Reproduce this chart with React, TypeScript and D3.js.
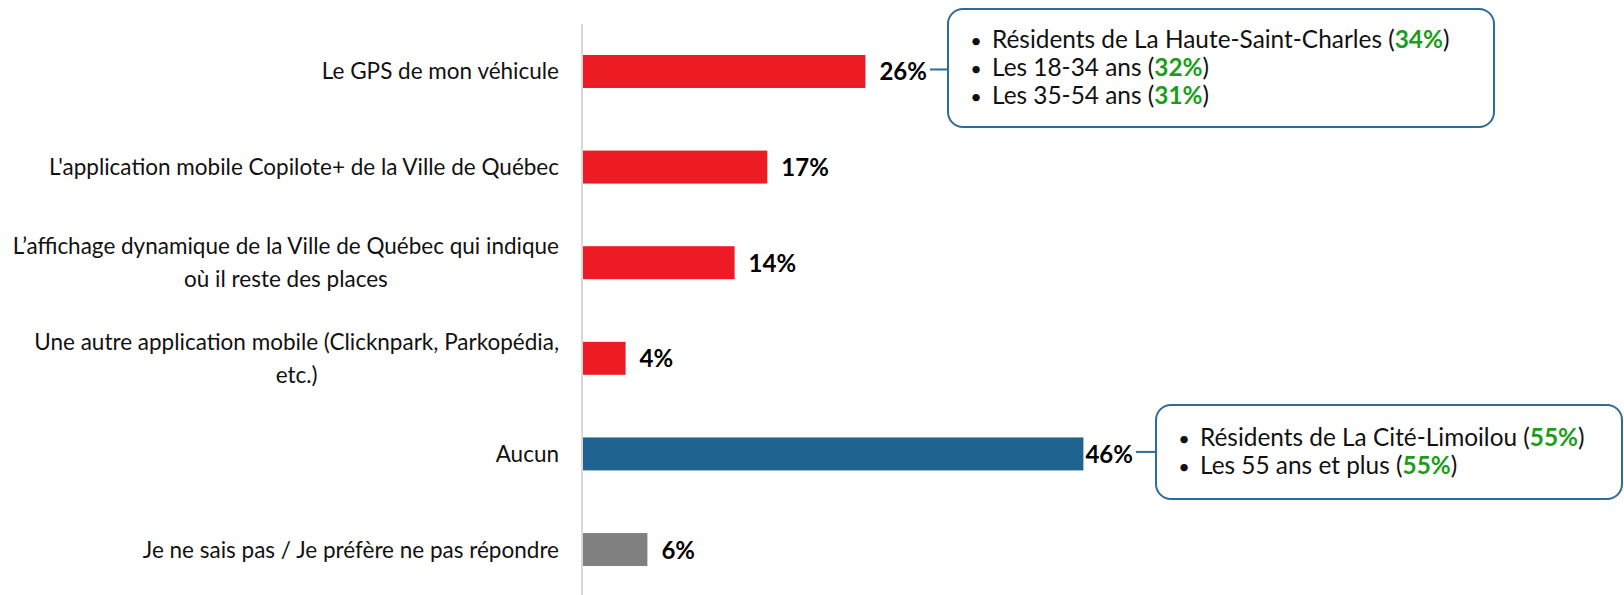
import React, { useEffect, useRef } from "react";
import * as d3 from "d3";

// ---- Data ----
const categories = [
  "Le GPS de mon véhicule",
  "L'application mobile Copilote+ de la Ville de Québec",
  "L’affichage dynamique de la Ville de Québec qui indique où il reste des places",
  "Une autre application mobile (Clicknpark, Parkopédia, etc.)",
  "Aucun",
  "Je ne sais pas / Je préfère ne pas répondre",
];
const categoryLines = [
  ["Le GPS de mon véhicule"],
  ["L'application mobile Copilote+ de la Ville de Québec"],
  ["L’affichage dynamique de la Ville de Québec qui indique", "où il reste des places"],
  ["Une autre application mobile (Clicknpark, Parkopédia,", "etc.)"],
  ["Aucun"],
  ["Je ne sais pas / Je préfère ne pas répondre"],
];
const values = [26, 17, 14, 4, 46, 6];
const groups = ["option", "option", "option", "option", "none", "unknown"];

const callout1Text = ["Résidents de La Haute-Saint-Charles", "Les 18-34 ans", "Les 35-54 ans"];
const callout1Values = ["34%", "32%", "31%"];
const callout2Text = ["Résidents de La Cité-Limoilou", "Les 55 ans et plus"];
const callout2Values = ["55%", "55%"];

const W = 1624;
const H = 595;
const FONT = "Lato, 'Open Sans', sans-serif";

export default function App() {
  const ref = useRef<SVGSVGElement | null>(null);

  useEffect(() => {
    const svg = d3.select(ref.current);
    svg.selectAll("*").remove();

    const x = d3.scaleLinear().domain([0, 50]).range([582, 582 + 545]);
    const y = d3
      .scaleBand<string>()
      .domain(categories)
      .range([24, 597])
      .paddingInner(0.655)
      .paddingOuter(0.324);
    const color = d3
      .scaleOrdinal<string, string>()
      .domain(["option", "none", "unknown"])
      .range(["#ED1C24", "#1F6391", "#808080"]);

    // bars
    svg
      .append("g")
      .selectAll("rect")
      .data(values)
      .join("rect")
      .attr("x", x(0))
      .attr("y", (_, i) => y(categories[i])!)
      .attr("width", (d) => x(d) - x(0))
      .attr("height", y.bandwidth())
      .attr("fill", (_, i) => color(groups[i]));

    // axis line
    svg
      .append("line")
      .attr("x1", x(0))
      .attr("x2", x(0))
      .attr("y1", 24)
      .attr("y2", H)
      .attr("stroke", "#D9D9D9")
      .attr("stroke-width", 2);

    // value labels
    const valueLabels = svg
      .append("g")
      .selectAll("text")
      .data(values)
      .join("text")
      .attr("x", (d, i) => x(d) + (groups[i] === "none" ? 2 : 14))
      .attr("y", (_, i) => y(categories[i])! + y.bandwidth() / 2 + 9)
      .attr("font-family", FONT)
      .attr("font-weight", 700)
      .attr("font-size", 24)
      .attr("fill", "#000")
      .text((d) => `${d}%`);

    // category labels
    const labelRight = 559;
    const lineH = 33;
    const catG = svg.append("g");
    categoryLines.forEach((lines, i) => {
      const cy = y(categories[i])! + y.bandwidth() / 2;
      const t = catG
        .append("text")
        .attr("font-family", FONT)
        .attr("font-size", 22.5)
        .attr("fill", "#111");
      const tspans = lines.map((ln, j) =>
        t
          .append("tspan")
          .attr("x", labelRight)
          .attr("y", cy + (j - (lines.length - 1) / 2) * lineH + 8)
          .text(ln)
      );
      if (lines.length > 1) {
        const widths = tspans.map((s) => (s.node() as SVGTextContentElement).getComputedTextLength());
        const maxW = Math.max(...widths);
        tspans.forEach((s) => s.attr("x", labelRight - maxW / 2).attr("text-anchor", "middle"));
      } else {
        t.attr("text-anchor", "end");
      }
    });

    // callouts
    const drawCallout = (
      catIndex: number,
      box: { x: number; y: number; w: number; h: number },
      texts: string[],
      vals: string[]
    ) => {
      const labelNode = valueLabels.nodes()[catIndex] as SVGTextElement;
      const lx = +labelNode.getAttribute("x")! + labelNode.getComputedTextLength() + 3;
      const cy = y(categories[catIndex])! + y.bandwidth() / 2 - 2;
      svg
        .append("line")
        .attr("x1", lx)
        .attr("x2", box.x)
        .attr("y1", cy)
        .attr("y2", cy)
        .attr("stroke", "#2E6A9B")
        .attr("stroke-width", 2);
      svg
        .append("rect")
        .attr("x", box.x)
        .attr("y", box.y)
        .attr("width", box.w)
        .attr("height", box.h)
        .attr("rx", 15)
        .attr("fill", "#fff")
        .attr("stroke", "#2E6A9B")
        .attr("stroke-width", 2);
      const mid = box.y + box.h / 2;
      texts.forEach((tx, j) => {
        const ly = mid + (j - (texts.length - 1) / 2) * 28 + 8;
        svg
          .append("text")
          .attr("x", box.x + 28)
          .attr("y", ly)
          .attr("text-anchor", "middle")
          .attr("font-family", FONT)
          .attr("font-size", 20)
          .attr("fill", "#111")
          .text("•");
        const t = svg
          .append("text")
          .attr("x", box.x + 44)
          .attr("y", ly)
          .attr("font-family", FONT)
          .attr("font-size", 24.4)
          .attr("fill", "#111");
        t.append("tspan").text(`${tx} (`);
        t.append("tspan").attr("fill", "#1A9E1A").attr("font-weight", 700).text(vals[j]);
        t.append("tspan").text(")");
      });
    };

    drawCallout(0, { x: 948, y: 9, w: 546, h: 118 }, callout1Text, callout1Values);
    drawCallout(4, { x: 1156, y: 405, w: 466, h: 94 }, callout2Text, callout2Values);
  }, []);

  return (
    <svg
      ref={ref}
      width={W}
      height={H}
      style={{ position: "absolute", left: 0, top: 0, display: "block", background: "#fff" }}
    />
  );
}
